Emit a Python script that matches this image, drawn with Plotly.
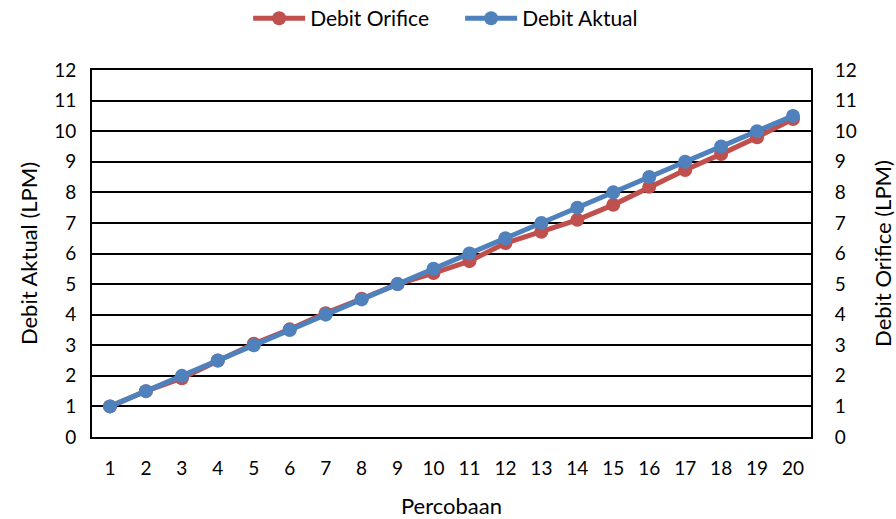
import plotly.graph_objects as go

# Trial numbers (Percobaan)
percobaan = [str(i) for i in range(1, 21)]

# Flow rates in litres per minute
debit_orifice = [1.0, 1.5, 1.92, 2.5, 3.05, 3.52, 4.05, 4.52, 5.0, 5.36,
                 5.75, 6.34, 6.71, 7.1, 7.59, 8.18, 8.73, 9.25, 9.8, 10.4]
debit_aktual = [1.0, 1.5, 2.0, 2.5, 3.0, 3.5, 4.0, 4.5, 5.0, 5.5,
                6.0, 6.5, 7.0, 7.5, 8.0, 8.5, 9.0, 9.5, 10.0, 10.5]

y_ticks = list(range(0, 13))

FONT = "Lato"
RED = "#C0504D"
BLUE = "#4F81BD"

fig = go.Figure()
fig.add_trace(go.Scatter(
    x=percobaan, y=debit_orifice, name="Debit Orifice", mode="lines+markers",
    line=dict(color=RED, width=5), marker=dict(color=RED, size=14),
))
fig.add_trace(go.Scatter(
    x=percobaan, y=debit_aktual, name="Debit Aktual", mode="lines+markers",
    line=dict(color=BLUE, width=5), marker=dict(color=BLUE, size=14),
))
# empty trace so the mirrored right-hand axis is drawn
fig.add_trace(go.Scatter(x=[], y=[], yaxis="y2", showlegend=False, hoverinfo="skip"))

tick_font = dict(family=FONT, size=19, color="#000000")
title_font = dict(family=FONT, size=22, color="#000000")

fig.update_layout(
    width=896, height=519,
    margin=dict(l=92, r=85, t=70, b=82, autoexpand=False),
    paper_bgcolor="white", plot_bgcolor="white",
    font=dict(family=FONT, size=19, color="#000000"),
    showlegend=True,
    legend=dict(orientation="h", x=0.512, xanchor="center", y=1.14, yanchor="middle",
                font=dict(family=FONT, size=21), itemwidth=52, entrywidth=145,
                traceorder="normal"),
    xaxis=dict(
        type="category", range=[-0.5, 19.5], tickfont=tick_font,
        showgrid=False, showline=True, linecolor="black", linewidth=2,
        mirror=True, ticks="", ticklabelstandoff=13,
        title=dict(text="Percobaan", font=title_font, standoff=21),
    ),
    yaxis=dict(
        range=[0, 12], tickvals=y_ticks, tickfont=tick_font,
        showgrid=True, gridcolor="black", gridwidth=1.5,
        showline=True, linecolor="black", linewidth=2, ticks="",
        zeroline=False, ticklabelstandoff=10,
        title=dict(text="Debit Aktual (LPM)", font=title_font, standoff=10),
    ),
    yaxis2=dict(
        range=[0, 12], tickvals=y_ticks, tickfont=tick_font,
        overlaying="y", side="right", showgrid=False, zeroline=False,
        showline=True, linecolor="black", linewidth=2, ticks="",
        ticklabelstandoff=18,
        title=dict(text="Debit Orifice (LPM)", font=title_font, standoff=20),
    ),
)

fig.write_html("out.html")
